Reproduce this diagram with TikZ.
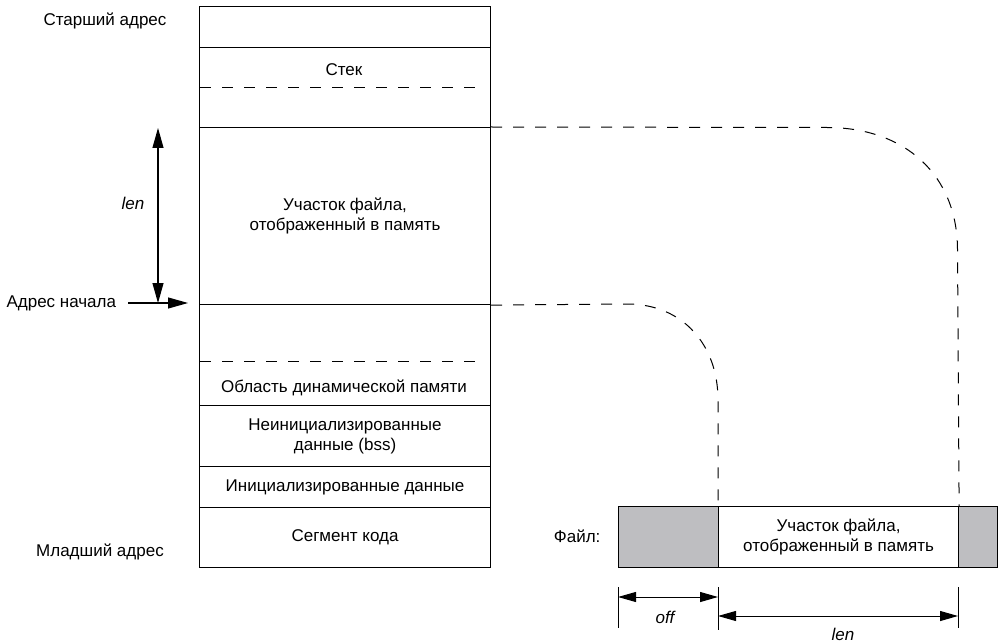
\documentclass[tikz,border=0pt]{standalone}
\usepackage{fontspec}
\setmainfont{Liberation Sans}
\usetikzlibrary{arrows.meta}
\begin{document}
\begin{tikzpicture}[x=1pt,y=-1pt, line width=1.1pt,
  font=\fontsize{17}{20}\selectfont,
  seg/.style={draw, minimum width=291pt, inner sep=0pt, anchor=north west, align=center},
  fseg/.style={draw, inner sep=0pt, anchor=north west, align=center, minimum height=61pt},
  dashline/.style={dash pattern=on 11pt off 11pt, line width=1pt},
  tip/.style={-{Triangle[length=20pt,width=11pt]}},
  dtip/.style={{Triangle[length=18pt,width=10pt]}-{Triangle[length=18pt,width=10pt]}, line width=1pt},
  lbl/.style={inner sep=0pt, align=center}]
\useasboundingbox (0,0) rectangle (1000,644);
\definecolor{filegray}{RGB}{190,190,193}
% memory column
\node[seg, minimum height=41pt] (top) at (199,6) {};
\node[seg, minimum height=80pt] (stack) at (199,47) {};
\node[seg, minimum height=177pt] (mapped) at (199,127) {Участок файла,\\отображенный в память};
\node[seg, minimum height=101pt] (heap) at (199,304) {};
\node[seg, minimum height=61pt] (bss) at (199,405) {Неинициализированные\\данные (bss)};
\node[seg, minimum height=41pt] (init) at (199,466) {Инициализированные данные};
\node[seg, minimum height=60pt] (code) at (199,507) {Сегмент кода};
\node[lbl] (stacktxt) at (344,70) {Стек};
\node[lbl] (heaptxt) at (344,388) {Область динамической памяти};
\coordinate (sd1) at (200,88);
\coordinate (sd2) at (481,88);
\coordinate (hd1) at (200,361);
\coordinate (hd2) at (481,361);
\draw[dashline] (sd1) -- (sd2);
\draw[dashline] (hd1) -- (hd2);
% side labels
\node[lbl] (high) at (105,21) {Старший адрес};
\node[lbl] (low) at (100,552) {Младший адрес};
\node[lbl, anchor=west] (start) at (6,303) {Адрес начала};
\node[lbl] (lenl) at (133,203) {\itshape len};
\coordinate (la) at (158,128);
\coordinate (lb) at (158,303);
\draw[{Triangle[length=20pt,width=11pt]}-{Triangle[length=20pt,width=11pt]}] (la) -- (lb);
\coordinate (sa) at (128,303);
\coordinate (sb) at (188,303);
\draw[tip] (sa) -- (sb);
% file
\node[fseg, fill=filegray, minimum width=100pt] (foff) at (618,506) {};
\node[fseg, fill=white, minimum width=240pt] (fmid) at (718,506) {Участок файла,\\отображенный в память};
\node[fseg, fill=filegray, minimum width=39pt] (fend) at (958,506) {};
\node[lbl, anchor=east] (file) at (601,536) {Файл:};
% dashed connectors
\draw[dashline] (mapped.north east) -- (827,127.5) .. controls (905,127.5) and (957.5,175) .. (957.5,250) -- (fmid.north east);
\draw[dashline] (mapped.south east) -- (627,304) .. controls (683,304) and (718,345) .. (718,400) -- (fmid.north west);
% dimensions
\coordinate (t1a) at (618,587); \coordinate (t1b) at (618,628);
\coordinate (t2a) at (718,587); \coordinate (t2b) at (718,630);
\coordinate (t3a) at (958,587); \coordinate (t3b) at (958,628);
\draw[line width=1pt] (t1a) -- (t1b) (t2a) -- (t2b) (t3a) -- (t3b);
\coordinate (oa) at (618,597); \coordinate (ob) at (718,597);
\coordinate (na) at (718,616); \coordinate (nb) at (958,616);
\draw[dtip] (oa) -- (ob);
\draw[dtip] (na) -- (nb);
\node[lbl] (offl) at (665,617) {\itshape off};
\node[lbl] (lenf) at (843,634) {\itshape len};
\end{tikzpicture}
\end{document}
